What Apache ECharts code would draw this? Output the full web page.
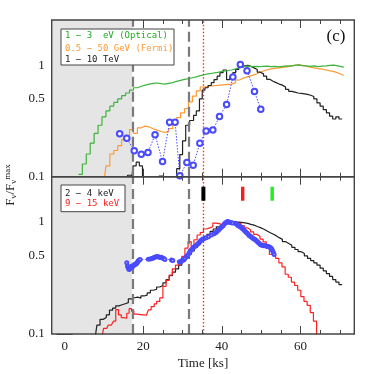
<!DOCTYPE html>
<html><head><meta charset="utf-8">
<script src="https://cdn.jsdelivr.net/npm/echarts@6/dist/echarts.min.js"></script>
<style>html,body{margin:0;padding:0;background:#fff}#c{width:374px;height:374px}</style>
</head><body><div id="c"></div>
<script>
// ---------- data ----------
const xTicksMajor = [0, 20, 40, 60];
const xTicksMinor = [5, 10, 15, 25, 30, 35, 45, 50, 55, 65, 70];
const yTicksMajor = [0.1, 0.5, 1];
const yTicksMinor = [0.2, 0.3, 0.4, 0.6, 0.7, 0.8, 0.9, 2];
const shadeEnd = 17.2;
const dashedTimes = [17.2, 31.6];
const dottedTime = 35.3;
const markerTimes = [35.3, 45.3, 52.8];
const markerColors = ['#000000', '#ff1a1a', '#22ee22'];
const markerRange = [1.53, 2.04];

// top panel
const optical = [[3.5,0.105],[4.5,0.13],[5.5,0.16],[6.5,0.2],[7.5,0.245],[8.5,0.29],[9.5,0.345],[10.5,0.39],[11.5,0.43],[12.5,0.465],[13.5,0.5],[14.5,0.535],[15.5,0.565],[16.5,0.6],[17.5,0.63],[18.5,0.65],[19.5,0.665],[20.5,0.68],[21.5,0.69],[22.5,0.695],[23.5,0.685],[24.5,0.68],[25.5,0.69],[26.5,0.7],[27.5,0.72],[28.5,0.735],[29.5,0.75],[30.5,0.76],[31.5,0.775],[32.5,0.79],[33.5,0.81],[34.5,0.825],[35.5,0.84],[36.5,0.85],[37.5,0.86],[38.5,0.875],[39.5,0.89],[40.5,0.9],[41.5,0.91],[42.5,0.93],[43.5,0.955],[44.5,0.975],[45.5,0.985],[46.5,0.975],[47.5,0.98],[48.5,0.975],[49.5,0.98],[50.5,0.985],[51.5,0.975],[52.5,0.98],[53.5,0.97],[54.5,0.98],[55.5,0.99],[56.5,0.985],[57.5,1.0],[58.5,1.01],[59.5,0.995],[60.5,0.99],[61.5,0.98],[62.5,0.99],[63.5,0.975],[64.5,0.985],[65.5,0.99],[66.5,1.0],[67.5,1.005],[68.5,0.99],[69.5,0.975],[70.5,0.96],[71,0.96]];
const fermi = [[10,0.09],[10.5,0.125],[11.5,0.16],[12.5,0.172],[13.5,0.19],[14.5,0.215],[15.5,0.235],[16.5,0.265],[17.5,0.245],[18.5,0.275],[19.5,0.285],[20.5,0.28],[21.5,0.27],[22.5,0.262],[23.5,0.255],[24.5,0.25],[25.5,0.255],[26.5,0.27],[27.5,0.3],[28.5,0.34],[29.5,0.375],[30.5,0.41],[31.5,0.47],[32.5,0.53],[33.5,0.59],[34.5,0.64],[35.5,0.65],[36.5,0.655],[37.5,0.66],[38.5,0.665],[39.5,0.67],[40.5,0.675],[41.5,0.68],[42.5,0.7],[43.5,0.74],[44.5,0.77],[45.5,0.79],[46.5,0.81],[47.5,0.83],[48.5,0.86],[49.5,0.89],[50.5,0.915],[51.5,0.93],[52.5,0.94],[53.5,0.95],[54.5,0.96],[55.5,0.97],[56.5,0.99],[57.5,1.0],[58.5,1.01],[59.5,1.0],[60.5,0.985],[61.5,0.965],[62.5,0.95],[63.5,0.935],[64.5,0.925],[65.5,0.91],[66.5,0.895],[67.5,0.88],[68.5,0.86],[69.5,0.83],[70.5,0.81],[71,0.81]];
const tev = [[14.5,0.08],[16,0.103],[17,0.09],[17.4,0.125],[18.2,0.135],[19,0.125],[19.8,0.095],[21,0.08],[24,0.101],[25,0.099],[25.5,0.08],[28.5,0.118],[29.3,0.158],[30.0,0.21],[30.8,0.29],[31.8,0.32],[32.8,0.355],[33.5,0.39],[34.3,0.5],[35.0,0.6],[35.7,0.63],[36.5,0.66],[37.3,0.7],[38.0,0.745],[38.8,0.8],[39.5,0.86],[40.3,0.91],[41.2,0.745],[42.0,0.79],[42.8,0.86],[43.5,0.92],[44.3,0.96],[45.0,0.99],[45.8,1.0],[46.6,0.98],[47.4,0.95],[48.2,0.92],[49.0,0.87],[49.8,0.84],[50.6,0.8],[51.4,0.75],[52.2,0.72],[53.0,0.7],[53.8,0.68],[54.6,0.665],[55.4,0.64],[56.2,0.61],[57.0,0.585],[57.8,0.575],[58.6,0.565],[59.4,0.56],[60.2,0.555],[61.0,0.55],[61.8,0.54],[62.6,0.525],[63.4,0.5],[64.2,0.46],[65.0,0.43],[65.8,0.4],[66.6,0.375],[67.4,0.35],[68.2,0.33],[69.0,0.345],[69.8,0.33],[70.6,0.33]];
const blueTop = [[14.0,0.243],[15.8,0.222],[17.7,0.171],[19.5,0.159],[21.2,0.165],[23.0,0.238],[24.9,0.137],[26.7,0.309],[28.1,0.309],[29.3,0.102],[31.1,0.134],[32.7,0.127],[34.4,0.2],[36.0,0.258],[37.7,0.263],[39.4,0.347],[41.2,0.445],[42.8,0.785],[44.7,1.02],[46.4,0.896],[48.3,0.583],[49.9,0.403]];

// bottom panel
const soft = [[7.7,0.09],[8.2,0.12],[9.0,0.135],[9.8,0.14],[10.6,0.148],[11.4,0.163],[12.2,0.17],[13.0,0.178],[13.8,0.182],[14.6,0.186],[15.4,0.19],[16.2,0.205],[17.0,0.21],[17.8,0.213],[18.6,0.208],[19.4,0.218],[20.2,0.222],[21.0,0.232],[21.8,0.245],[22.6,0.25],[23.4,0.262],[24.2,0.27],[25.0,0.285],[25.8,0.305],[26.6,0.33],[27.4,0.355],[28.2,0.38],[29.0,0.41],[29.8,0.44],[30.6,0.47],[31.4,0.51],[32.2,0.55],[33.0,0.59],[33.8,0.63],[34.6,0.67],[35.4,0.72],[36.2,0.77],[37.0,0.82],[37.8,0.86],[38.6,0.9],[39.4,0.925],[40.2,0.95],[41.0,0.97],[41.8,0.975],[42.6,0.985],[43.4,0.99],[44.2,0.985],[45.0,0.975],[45.8,0.965],[46.6,0.945],[47.4,0.93],[48.2,0.905],[49.0,0.885],[49.8,0.86],[50.6,0.83],[51.4,0.8],[52.2,0.775],[53.0,0.75],[53.8,0.72],[54.6,0.695],[55.4,0.665],[56.2,0.64],[57.0,0.615],[57.8,0.59],[58.6,0.565],[59.4,0.54],[60.2,0.52],[61.0,0.495],[61.8,0.47],[62.6,0.45],[63.4,0.43],[64.2,0.41],[65.0,0.385],[65.8,0.365],[66.6,0.345],[67.4,0.325],[68.2,0.305],[69.0,0.29],[69.8,0.275],[70.6,0.275]];
const hard = [[9.4,0.09],[9.9,0.112],[10.7,0.115],[11.1,0.12],[11.9,0.125],[12.4,0.13],[13.0,0.165],[13.7,0.148],[14.4,0.14],[15.0,0.138],[15.8,0.153],[16.4,0.168],[17.0,0.16],[17.6,0.15],[18.4,0.149],[19.2,0.148],[20.0,0.147],[20.8,0.15],[21.3,0.164],[22.0,0.175],[22.8,0.185],[23.4,0.195],[24.2,0.21],[25.0,0.265],[25.8,0.3],[26.6,0.335],[27.4,0.38],[28.2,0.41],[29.0,0.44],[29.8,0.49],[30.6,0.58],[31.4,0.665],[32.2,0.6],[32.9,0.69],[33.7,0.76],[34.5,0.8],[35.3,0.86],[36.1,0.88],[36.9,0.9],[37.7,0.97],[38.5,0.96],[39.3,0.94],[40.1,0.97],[40.9,0.985],[41.7,1.0],[42.5,0.995],[43.3,0.975],[44.1,0.96],[44.9,0.92],[45.7,0.88],[46.5,0.845],[47.3,0.81],[48.1,0.77],[48.9,0.74],[49.7,0.7],[50.5,0.66],[51.3,0.6],[52.1,0.51],[52.9,0.49],[53.7,0.47],[54.5,0.43],[55.3,0.395],[56.1,0.34],[56.9,0.32],[57.7,0.29],[58.5,0.27],[59.3,0.245],[60.1,0.215],[60.9,0.195],[61.7,0.18],[62.5,0.155],[63.3,0.13],[64.1,0.09],[65,0.09]];
const blueBottom = [[15.8,0.43],[16.0,0.4],[16.2,0.385],[16.4,0.375],[16.6,0.38],[16.8,0.39],[17.0,0.4],[17.2,0.395],[17.4,0.405],[17.6,0.41],[17.8,0.415],[18.0,0.42],[18.2,0.42],[18.4,0.43],[18.6,0.44],[18.8,0.45],[19.0,0.455],[19.2,0.46],[21.3,0.462],[21.8,0.465],[22.2,0.47],[22.5,0.475],[22.8,0.48],[23.1,0.485],[23.4,0.49],[23.7,0.488],[24.0,0.485],[24.3,0.48],[24.6,0.482],[24.9,0.475],[25.2,0.47],[25.5,0.46],[27.2,0.455],[27.5,0.45],[29.2,0.44],[29.4,0.435],[29.7,0.445],[30.0,0.455],[30.3,0.46],[30.6,0.47],[31.0,0.49],[31.3,0.5],[31.6,0.52],[31.9,0.54],[32.2,0.56],[32.5,0.575],[32.8,0.59],[33.1,0.6],[33.4,0.61],[33.7,0.625],[34.0,0.64],[34.3,0.66],[34.6,0.675],[34.9,0.69],[35.2,0.7],[35.6,0.71],[36.0,0.72],[36.6,0.735],[37.3,0.76],[38.0,0.78],[38.5,0.8],[38.8,0.82],[39.1,0.84],[39.4,0.86],[39.7,0.88],[40.0,0.9],[40.3,0.92],[40.6,0.95],[40.9,0.97],[41.2,0.99],[41.5,1.0],[41.8,0.99],[42.1,0.98],[42.4,0.975],[42.7,0.97],[43.4,0.965],[43.7,0.95],[44.0,0.93],[44.3,0.92],[44.6,0.9],[44.9,0.89],[45.2,0.87],[45.5,0.85],[45.8,0.83],[46.1,0.81],[46.4,0.79],[46.7,0.77],[47.0,0.75],[47.3,0.74],[47.6,0.725],[47.9,0.71],[48.2,0.7],[48.5,0.69],[48.8,0.675],[49.1,0.66],[49.4,0.645],[49.7,0.63],[50.0,0.62],[50.3,0.615],[50.6,0.61],[50.9,0.612],[51.2,0.608],[51.5,0.605],[51.8,0.6],[52.1,0.595],[52.4,0.585],[52.7,0.57],[52.9,0.55],[53.1,0.53],[53.3,0.51]];

// ---------- layout ----------
const XMIN = -3.3, XMAX = 73.7;
const YMAX = [2.56, 2.51];
const frameColor = '#444';
const serif = 'Liberation Serif';
const mono = 'DejaVu Sans Mono';

function xAxes(g, labels) {
  const base = {type: 'value', gridIndex: g, min: XMIN, max: XMAX, splitLine: {show: false}, axisLine: {show: false}};
  const mk = (pos, vals, len, lab) => Object.assign({}, base, {
    position: pos,
    axisTick: {show: true, inside: true, length: len, customValues: vals, lineStyle: {color: frameColor, width: 1}},
    axisLabel: lab ? {show: true, customValues: vals, color: '#222', fontFamily: serif, fontSize: 13, margin: 6} : {show: false},
    name: lab ? 'Time [ks]' : '', nameLocation: 'middle', nameGap: 23,
    nameTextStyle: {fontFamily: serif, fontSize: 13, color: '#222'}
  });
  return [mk('bottom', xTicksMajor, 8, labels), mk('bottom', xTicksMinor, 4, false),
          mk('top', xTicksMajor, 8, false), mk('top', xTicksMinor, 4, false)];
}
function yAxes(g) {
  const base = {type: 'log', logBase: 10, gridIndex: g, min: 0.1, max: YMAX[g], splitLine: {show: false}, axisLine: {show: false}};
  const mk = (pos, vals, len, lab) => Object.assign({}, base, {
    position: pos,
    axisTick: {show: true, inside: true, length: len, customValues: vals, lineStyle: {color: frameColor, width: 1}},
    axisLabel: lab ? {show: true, customValues: vals, color: '#222', fontFamily: serif, fontSize: 13, margin: 7,
      formatter: v => String(+(+v).toPrecision(3))} : {show: false}
  });
  return [mk('left', yTicksMajor, 8, true), mk('left', yTicksMinor, 4, false),
          mk('right', yTicksMajor, 8, false), mk('right', yTicksMinor, 4, false)];
}

function stepLine(data, color, g, z) {
  return {type: 'line', step: 'end', data: data, xAxisIndex: g * 4, yAxisIndex: g * 4, symbol: 'none',
    lineStyle: {color: color, width: 1.2}, z: z || 3, silent: true, animation: false};
}
function decor(g) {
  return {type: 'line', data: [], xAxisIndex: g * 4, yAxisIndex: g * 4, z: 1, silent: true, animation: false,
    markArea: {silent: true, itemStyle: {color: '#e5e5e5'}, label: {show: false},
      data: [[{xAxis: XMIN}, {xAxis: shadeEnd}]]},
    markLine: {silent: true, symbol: ['none', 'none'], label: {show: false}, animation: false,
      data: dashedTimes.map(t => ({xAxis: t, lineStyle: {color: '#7a7a7a', width: 2.2, type: [10, 5]}}))
        .concat([{xAxis: dottedTime, lineStyle: {color: '#ff2020', width: 1.3, type: [1.5, 2]}}])}
  };
}

const series = [
  decor(0), decor(1),
  stepLine(optical, '#3cb43c', 0, 4),
  stepLine(fermi, '#ff9933', 0, 3),
  stepLine(tev, '#222222', 0, 3),
  {type: 'line', data: blueTop, xAxisIndex: 0, yAxisIndex: 0, symbol: 'emptyCircle', symbolSize: 5.5, z: 5,
    lineStyle: {color: '#4a4aff', width: 1, type: [1.5, 1.5]}, itemStyle: {color: '#4a4aff', borderWidth: 1}, animation: false},
  stepLine(soft, '#222222', 1, 3),
  stepLine(hard, '#ff2020', 1, 4),
  {type: 'line', data: blueBottom, xAxisIndex: 4, yAxisIndex: 4, symbol: 'emptyCircle', symbolSize: 3, z: 5,
    lineStyle: {color: '#4a4aff', width: 0.8, type: [1.5, 1.5]}, itemStyle: {color: '#4a4aff', borderWidth: 0.8}, animation: false}
];
markerTimes.forEach((t, i) => series.push({type: 'line', data: [[t, markerRange[0]], [t, markerRange[1]]],
  xAxisIndex: 4, yAxisIndex: 4, symbol: 'none', z: 6, animation: false,
  lineStyle: {color: markerColors[i], width: i === 0 ? 4 : 3.4}}));

function legendBox(x, y, w, h, rows) {
  const out = [{type: 'rect', z: 100, shape: {x: x, y: y, width: w, height: h}, style: {fill: '#fff', stroke: frameColor, lineWidth: 1}}];
  rows.forEach(r => out.push({type: 'text', z: 101, x: x + 4, y: r[2], style: {text: r[0], fill: r[1], font: '9px "' + mono + '"', verticalAlign: 'middle'}}));
  return out;
}

const chart = echarts.init(document.getElementById('c'), null, {renderer: 'canvas'});
chart.setOption({
  animation: false,
  backgroundColor: '#fff',
  grid: [
    {left: 51.7, right: 19.7, top: 20, height: 156.7, show: true, borderColor: frameColor, borderWidth: 1.4, backgroundColor: 'transparent', z: 10},
    {left: 51.7, right: 19.7, top: 176.7, height: 157.3, show: true, borderColor: frameColor, borderWidth: 1.4, backgroundColor: 'transparent', z: 10}
  ],
  xAxis: xAxes(0, false).concat(xAxes(1, true)),
  yAxis: yAxes(0).concat(yAxes(1)),
  series: series,
  graphic: [].concat(
    legendBox(61, 29, 113, 36, [['1 \u2212 3  eV (Optical)', '#22aa22', 36], ['0.5 \u2212 50 GeV (Fermi)', '#ff9933', 48.3], ['1 \u2212 10 TeV', '#222', 60]]),
    legendBox(61, 185, 64, 26.7, [['2 \u2212 4 keV', '#222', 193.3], ['9 \u2212 15 keV', '#ff2020', 204]]),
    [{type: 'text', x: 336, y: 37, z: 100, style: {text: '(c)', font: '17px "' + serif + '"', fill: '#111', align: 'center', verticalAlign: 'middle'}},
    {type: 'text', x: 11, y: 185, rotation: Math.PI / 2, z: 100, style: {
      text: '{a|F}{s|\u03bd}{a|/F}{s|\u03bd}{p|max}', align: 'center', verticalAlign: 'middle',
      rich: {a: {fontFamily: serif, fontSize: 13, fill: '#222'}, s: {fontFamily: serif, fontSize: 9, fill: '#222', verticalAlign: 'bottom', padding: [4, 0, 0, 0]},
             p: {fontFamily: serif, fontSize: 9, fill: '#222', verticalAlign: 'top', padding: [0, 0, 6, 0]}}}}])
});
</script></body></html>
